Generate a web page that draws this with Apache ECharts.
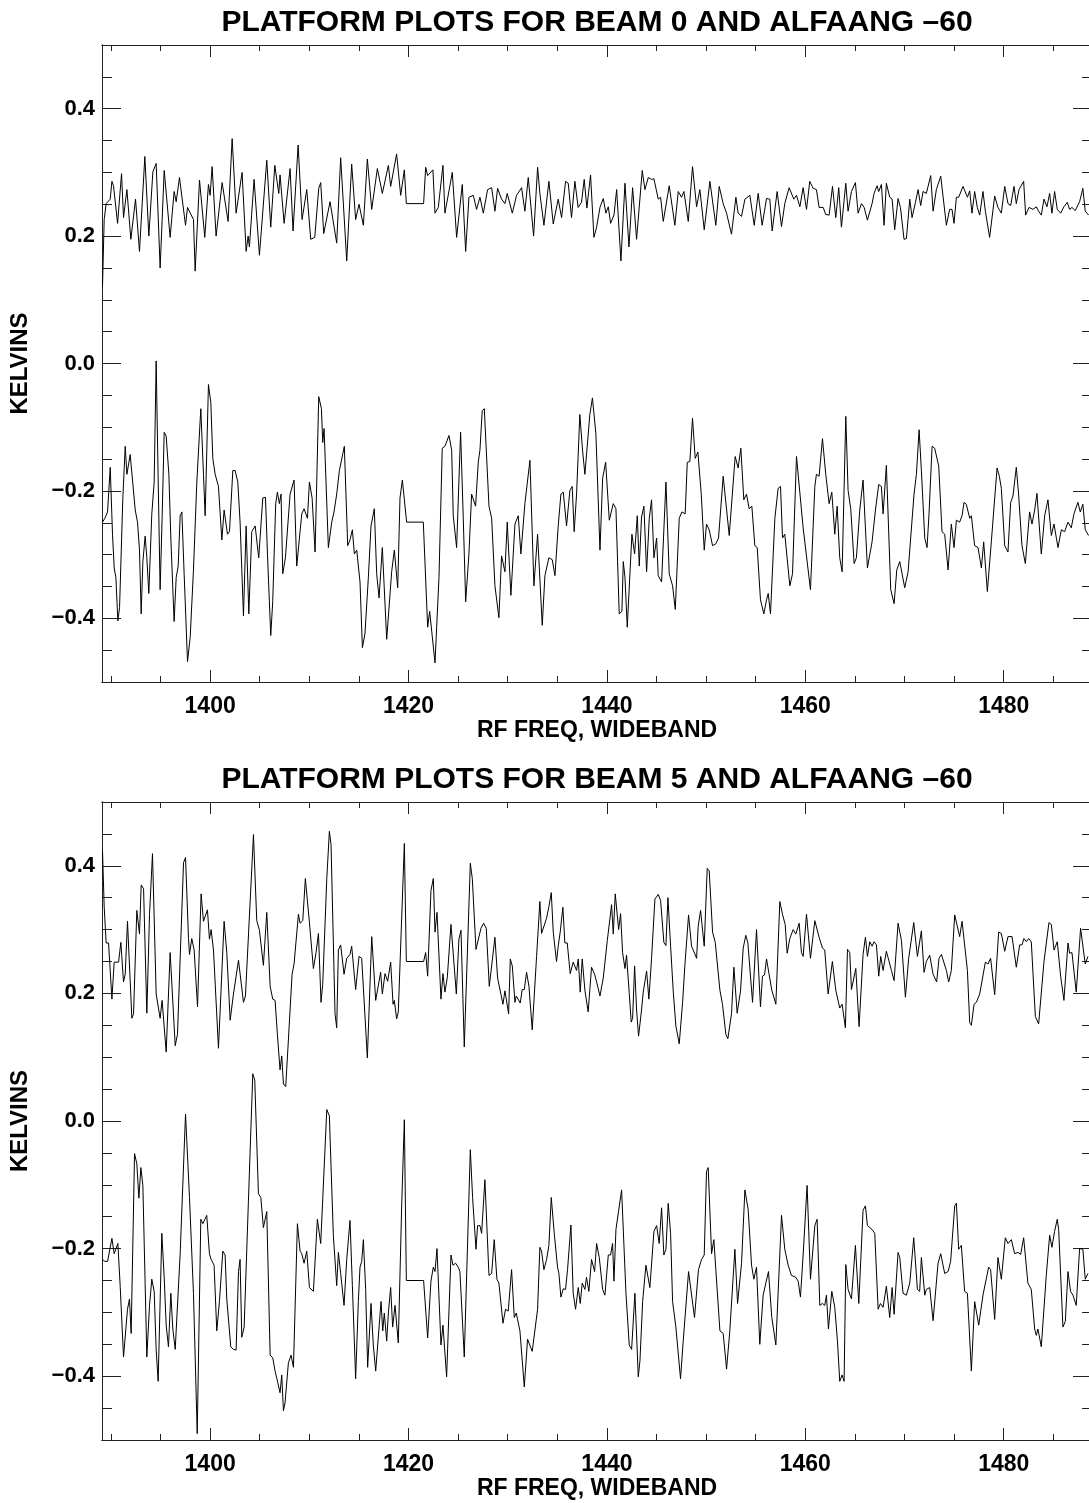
<!DOCTYPE html>
<html lang="en">
<head>
<meta charset="UTF-8">
<title>Platform plots, beams 0 and 5</title>
<script src="https://cdn.jsdelivr.net/npm/echarts@6/dist/echarts.min.js"></script>
<style>html,body{margin:0;padding:0;background:#fff;}</style>
</head>
<body>
<div id="main" style="width:1089px;height:1503px;"></div>
<script type="text/javascript">
// axis ranges and ticks
var freqMin = 1389.1, freqMax = 1488.9;
var kelvinMin = -0.5, kelvinMax = 0.5;
var xMajorTicks = [1400, 1420, 1440, 1460, 1480];
var xMinorTicks = [1390, 1395, 1405, 1410, 1415, 1425, 1430, 1435, 1445, 1450, 1455, 1465, 1470, 1475, 1485];
var yMajorTicks = [-0.4, -0.2, 0, 0.2, 0.4];
var yMinorTicks = [-0.45, -0.35, -0.3, -0.25, -0.15, -0.1, -0.05, 0.05, 0.1, 0.15, 0.25, 0.3, 0.35, 0.45];
var panelTitles = ['PLATFORM PLOTS FOR BEAM 0 AND ALFAANG \u201360', 'PLATFORM PLOTS FOR BEAM 5 AND ALFAANG \u201360'];

// beam 0, upper trace  [RF freq (MHz), kelvins]
var beam0Upper = [[1389.15,0.12],[1389.32,0.226],[1389.52,0.251],[1389.93,0.258],[1390.1,0.286],[1390.26,0.279],[1390.67,0.22],[1391.07,0.298],[1391.27,0.229],[1391.61,0.273],[1392.01,0.195],[1392.48,0.258],[1392.88,0.176],[1393.42,0.325],[1393.82,0.2],[1394.23,0.301],[1394.56,0.314],[1394.96,0.15],[1395.37,0.303],[1395.97,0.198],[1396.37,0.27],[1396.58,0.254],[1396.91,0.292],[1397.52,0.217],[1397.72,0.245],[1398.32,0.226],[1398.49,0.145],[1398.93,0.288],[1399.46,0.198],[1399.83,0.281],[1400.0,0.264],[1400.2,0.309],[1400.6,0.2],[1401.21,0.284],[1401.81,0.223],[1402.22,0.353],[1402.62,0.236],[1403.22,0.3],[1403.63,0.176],[1403.83,0.2],[1403.96,0.183],[1404.43,0.289],[1404.97,0.17],[1405.71,0.319],[1406.11,0.214],[1406.52,0.311],[1406.92,0.267],[1407.05,0.296],[1407.46,0.22],[1408.06,0.306],[1408.36,0.208],[1408.87,0.343],[1409.27,0.226],[1409.74,0.273],[1410.14,0.195],[1410.55,0.198],[1410.95,0.275],[1411.15,0.284],[1411.45,0.204],[1412.09,0.254],[1412.76,0.189],[1413.16,0.323],[1413.77,0.161],
  [1414.27,0.313],[1414.67,0.226],[1415.01,0.25],[1415.45,0.217],[1415.85,0.321],[1416.29,0.242],[1416.86,0.306],[1417.36,0.267],[1417.97,0.311],[1418.2,0.278],[1418.8,0.329],[1419.21,0.264],[1419.58,0.304],[1419.78,0.251],[1421.52,0.251],[1421.73,0.308],[1421.93,0.295],[1422.46,0.304],[1422.67,0.236],[1423.0,0.245],[1423.47,0.311],[1423.67,0.236],[1424.08,0.271],[1424.41,0.3],[1424.85,0.198],[1425.42,0.281],[1425.76,0.176],[1426.09,0.261],[1426.53,0.264],[1426.86,0.242],[1427.2,0.261],[1427.54,0.236],[1427.97,0.273],[1428.38,0.276],[1428.71,0.239],[1428.98,0.275],[1429.38,0.258],[1429.72,0.251],[1429.95,0.267],[1430.46,0.236],[1430.89,0.264],[1431.4,0.276],[1431.73,0.239],[1432.07,0.292],[1432.61,0.2],[1433.01,0.308],[1433.24,0.267],[1433.65,0.217],[1434.15,0.286],[1434.59,0.219],[1435.09,0.258],[1435.43,0.229],[1435.83,0.286],[1436.1,0.283],[1436.43,0.229],[1436.77,0.286],[1437.1,0.245],[1437.44,0.253],[1437.71,0.289],[1437.98,0.244],[1438.35,0.296],[1438.69,0.198],
  [1438.96,0.214],[1439.3,0.245],[1439.63,0.259],[1439.9,0.236],[1440.14,0.246],[1440.37,0.22],[1440.71,0.233],[1440.98,0.273],[1441.41,0.161],[1441.82,0.283],[1442.22,0.183],[1442.59,0.276],[1442.99,0.195],[1443.56,0.303],[1443.83,0.273],[1444.17,0.292],[1444.5,0.289],[1444.74,0.29],[1445.17,0.258],[1445.41,0.261],[1445.68,0.223],[1446.28,0.279],[1446.85,0.217],[1447.19,0.27],[1447.52,0.261],[1447.76,0.27],[1448.2,0.223],[1448.63,0.309],[1449.04,0.246],[1449.37,0.273],[1449.81,0.21],[1450.38,0.286],[1450.98,0.217],[1451.32,0.278],[1451.72,0.251],[1452.06,0.236],[1452.56,0.203],[1453.0,0.261],[1453.23,0.236],[1453.57,0.231],[1453.91,0.258],[1454.41,0.264],[1454.85,0.217],[1455.25,0.267],[1455.65,0.217],[1456.09,0.259],[1456.42,0.258],[1456.66,0.208],[1457.16,0.27],[1457.6,0.215],[1457.93,0.251],[1458.37,0.276],[1458.84,0.258],[1459.11,0.264],[1459.45,0.246],[1459.78,0.276],[1460.12,0.242],[1460.45,0.286],[1460.79,0.275],[1461.12,0.273],[1461.39,0.245],[1461.8,0.245],[1462.06,0.234],[1462.4,0.233],[1462.74,0.278],[1463.07,0.229],
  [1463.37,0.276],[1463.64,0.214],[1464.08,0.283],[1464.31,0.239],[1464.65,0.27],[1465.05,0.284],[1465.32,0.236],[1465.66,0.251],[1465.93,0.245],[1466.26,0.225],[1466.73,0.251],[1466.93,0.267],[1467.23,0.279],[1467.4,0.27],[1467.67,0.281],[1467.94,0.217],[1468.17,0.283],[1468.51,0.261],[1468.75,0.258],[1469.01,0.21],[1469.35,0.259],[1469.59,0.245],[1469.95,0.195],[1470.19,0.196],[1470.53,0.258],[1470.76,0.229],[1471.1,0.253],[1471.37,0.273],[1471.63,0.248],[1471.87,0.27],[1472.2,0.267],[1472.64,0.295],[1472.88,0.239],[1473.21,0.273],[1473.65,0.294],[1474.22,0.217],[1474.55,0.242],[1474.79,0.242],[1474.99,0.22],[1475.23,0.261],[1475.46,0.261],[1475.9,0.278],[1476.34,0.261],[1476.57,0.271],[1476.8,0.236],[1477.07,0.27],[1477.34,0.245],[1477.58,0.233],[1477.91,0.27],[1478.15,0.239],[1478.58,0.198],[1479.09,0.263],[1479.42,0.245],[1479.76,0.236],[1480.1,0.278],[1480.43,0.251],[1480.7,0.248],[1481.04,0.278],[1481.27,0.251],[1481.54,0.273],[1482.01,0.286],[1482.21,0.233],[1482.55,0.245],[1482.95,0.242],[1483.29,0.246],[1483.52,0.239],[1483.79,0.233],[1484.06,0.258],[1484.36,0.246],[1484.63,0.267],[1484.86,0.236],[1485.13,0.27],[1485.4,0.242],[1485.74,0.236],[1486.07,0.246],[1486.41,0.253],[1486.64,0.242],[1486.88,0.245],[1487.21,0.24],[1487.65,0.254],[1487.98,0.275],[1488.22,0.239],[1488.56,0.233]];

// beam 0, lower trace
var beam0Lower = [[1389.15,-0.249],[1389.39,-0.243],[1389.66,-0.233],[1389.93,-0.163],[1390.16,-0.268],[1390.33,-0.321],[1390.5,-0.336],[1390.7,-0.404],[1390.87,-0.383],[1391.2,-0.211],[1391.44,-0.13],[1391.61,-0.174],[1391.94,-0.143],[1392.11,-0.146],[1392.45,-0.23],[1392.68,-0.249],[1392.88,-0.293],[1393.05,-0.393],[1393.22,-0.311],[1393.45,-0.271],[1393.62,-0.305],[1393.82,-0.361],[1394.12,-0.236],[1394.36,-0.186],[1394.56,0.004],[1394.76,-0.18],[1394.96,-0.355],[1395.16,-0.243],[1395.37,-0.108],[1395.57,-0.114],[1395.84,-0.174],[1396.04,-0.274],[1396.37,-0.405],[1396.58,-0.336],[1396.78,-0.318],[1396.98,-0.239],[1397.15,-0.233],[1397.38,-0.33],[1397.72,-0.468],[1397.99,-0.43],[1398.32,-0.324],[1398.66,-0.186],[1399.06,-0.071],[1399.33,-0.174],[1399.5,-0.239],[1399.83,-0.033],[1400.07,-0.061],[1400.27,-0.149],[1400.51,-0.174],[1400.84,-0.193],[1401.18,-0.277],[1401.41,-0.23],[1401.61,-0.228],[1401.75,-0.268],[1401.95,-0.264],[1402.29,-0.168],[1402.52,-0.168],[1402.79,-0.186],[1403.02,-0.249],[1403.36,-0.396],[1403.63,-0.255],[1403.9,-0.393],[1404.2,-0.264],[1404.54,-0.255],[1404.9,-0.305],[1405.31,-0.211],[1405.58,-0.21],[1405.78,-0.299],[1406.11,-0.427],[1406.31,-0.374],[1406.61,-0.22],[1406.78,-0.202],[1406.98,-0.22],[1407.15,-0.205],[1407.32,-0.33],[1407.59,-0.305],[1408.06,-0.205],[1408.46,-0.183],[1408.73,-0.318],[1408.9,-0.321],[1409.24,-0.236],[1409.47,-0.228],[1409.81,-0.243],[1410.01,-0.186],[1410.28,-0.211],[1410.58,-0.296],[1410.95,-0.052],[1411.22,-0.071],[1411.35,-0.124],[1411.49,-0.102],[1411.92,-0.289],[1412.26,-0.249],[1412.49,-0.233],[1412.76,-0.205],[1413.03,-0.168],[1413.23,-0.168],[1413.53,-0.13],[1413.87,-0.286],
  [1414.1,-0.277],[1414.34,-0.261],[1414.54,-0.299],[1414.78,-0.293],[1415.11,-0.343],[1415.35,-0.446],[1415.61,-0.424],[1415.95,-0.336],[1416.22,-0.255],[1416.55,-0.228],[1416.79,-0.33],[1417.03,-0.368],[1417.36,-0.289],[1417.8,-0.433],[1418.3,-0.327],[1418.57,-0.293],[1418.91,-0.352],[1419.14,-0.211],[1419.38,-0.183],[1419.81,-0.249],[1421.49,-0.249],[1421.93,-0.414],[1422.13,-0.389],[1422.67,-0.47],[1423.07,-0.336],[1423.4,-0.133],[1423.67,-0.13],[1424.08,-0.113],[1424.35,-0.136],[1424.51,-0.239],[1424.85,-0.289],[1425.25,-0.108],[1425.52,-0.243],[1425.76,-0.374],[1426.09,-0.299],[1426.36,-0.205],[1426.56,-0.202],[1426.76,-0.224],[1427.03,-0.155],[1427.2,-0.136],[1427.43,-0.074],[1427.64,-0.071],[1428.11,-0.224],[1428.38,-0.243],[1428.71,-0.349],[1429.11,-0.399],[1429.38,-0.302],[1429.72,-0.327],[1429.95,-0.249],[1430.32,-0.364],[1430.73,-0.252],[1431.06,-0.239],[1431.33,-0.299],[1431.73,-0.22],[1431.9,-0.218],[1432.24,-0.152],[1432.64,-0.349],[1433.01,-0.268],[1433.48,-0.411],[1433.75,-0.333],[1434.15,-0.305],[1434.49,-0.308],[1434.76,-0.333],[1435.09,-0.255],[1435.36,-0.205],[1435.6,-0.202],[1435.93,-0.255],[1436.27,-0.199],[1436.5,-0.193],[1436.7,-0.264],[1436.94,-0.205],[1437.27,-0.08],[1437.54,-0.136],[1437.78,-0.174],[1437.94,-0.177],[1438.28,-0.08],[1438.54,-0.054],
  [1438.89,-0.111],[1439.3,-0.293],[1439.57,-0.18],[1439.87,-0.155],[1440.24,-0.246],[1440.64,-0.22],[1440.91,-0.228],[1441.24,-0.393],[1441.51,-0.389],[1441.65,-0.311],[1441.82,-0.336],[1442.05,-0.414],[1442.25,-0.414],[1442.52,-0.268],[1442.79,-0.299],[1443.06,-0.239],[1443.26,-0.318],[1443.49,-0.241],[1443.73,-0.224],[1444.0,-0.327],[1444.27,-0.243],[1444.5,-0.214],[1444.74,-0.305],[1445.01,-0.274],[1445.17,-0.333],[1445.51,-0.343],[1445.95,-0.186],[1446.28,-0.33],[1446.62,-0.349],[1446.89,-0.386],[1447.29,-0.243],[1447.56,-0.233],[1447.89,-0.236],[1448.1,-0.155],[1448.36,-0.154],[1448.63,-0.086],[1448.9,-0.149],[1449.17,-0.139],[1449.51,-0.205],[1449.81,-0.293],[1450.04,-0.252],[1450.31,-0.261],[1450.65,-0.286],[1450.98,-0.283],[1451.25,-0.274],[1451.72,-0.177],[1452.33,-0.27],[1452.93,-0.146],[1453.23,-0.164],[1453.5,-0.133],[1453.8,-0.214],[1454.07,-0.205],[1454.34,-0.228],[1454.61,-0.224],[1454.91,-0.286],[1455.15,-0.289],[1455.48,-0.371],[1455.82,-0.393],[1456.09,-0.371],[1456.26,-0.361],[1456.49,-0.393],[1456.93,-0.243],[1457.26,-0.196],[1457.5,-0.193],[1457.7,-0.274],[1457.93,-0.268],[1458.44,-0.349],[1458.71,-0.33],[1459.11,-0.146],[1459.28,-0.143],[1459.78,-0.258],[1460.52,-0.355],[1460.96,-0.193],[1461.12,-0.174],[1461.39,-0.177],[1461.73,-0.118],[1462.06,-0.174],[1462.4,-0.22],[1462.67,-0.202],[1462.97,-0.268],[1463.21,-0.224],
  [1463.47,-0.305],[1463.71,-0.327],[1464.08,-0.083],[1464.31,-0.199],[1464.58,-0.228],[1464.92,-0.314],[1465.15,-0.305],[1465.49,-0.23],[1465.82,-0.183],[1466.26,-0.321],[1466.73,-0.28],[1467.07,-0.23],[1467.4,-0.19],[1467.67,-0.193],[1467.84,-0.236],[1468.17,-0.16],[1468.61,-0.355],[1468.95,-0.377],[1469.22,-0.324],[1469.52,-0.311],[1470.02,-0.352],[1470.36,-0.327],[1470.53,-0.324],[1470.96,-0.205],[1471.2,-0.174],[1471.47,-0.104],[1471.7,-0.168],[1472.04,-0.274],[1472.27,-0.289],[1472.47,-0.236],[1472.78,-0.13],[1473.04,-0.133],[1473.45,-0.161],[1473.78,-0.264],[1474.05,-0.268],[1474.39,-0.324],[1474.72,-0.252],[1474.99,-0.289],[1475.23,-0.246],[1475.56,-0.249],[1475.8,-0.239],[1476.0,-0.218],[1476.23,-0.221],[1476.57,-0.243],[1476.74,-0.239],[1477.07,-0.286],[1477.41,-0.289],[1477.75,-0.321],[1477.98,-0.28],[1478.35,-0.358],[1478.75,-0.28],[1479.33,-0.164],[1479.56,-0.177],[1479.76,-0.196],[1480.1,-0.286],[1480.43,-0.296],[1480.7,-0.218],[1480.93,-0.208],[1481.27,-0.163],[1481.5,-0.205],[1481.84,-0.286],[1482.18,-0.314],[1482.61,-0.233],[1482.85,-0.252],[1483.12,-0.23],[1483.35,-0.204],[1483.79,-0.299],[1484.13,-0.239],[1484.46,-0.214],[1484.8,-0.27],[1485.07,-0.252],[1485.47,-0.289],[1485.81,-0.261],[1486.14,-0.264],[1486.48,-0.249],[1486.81,-0.258],[1487.08,-0.236],[1487.48,-0.218],[1487.72,-0.233],[1487.98,-0.221],[1488.22,-0.261],[1488.56,-0.27]];

// beam 5, upper trace
var beam5Upper = [[1389.15,0.424],[1389.32,0.336],[1389.52,0.279],[1389.76,0.279],[1390.1,0.191],[1390.33,0.249],[1390.77,0.249],[1391.0,0.28],[1391.27,0.218],[1391.44,0.23],[1391.67,0.313],[1392.11,0.161],[1392.28,0.168],[1392.61,0.33],[1392.88,0.293],[1393.05,0.37],[1393.29,0.364],[1393.62,0.169],[1393.89,0.324],[1394.19,0.419],[1394.56,0.199],[1394.96,0.161],[1395.16,0.189],[1395.57,0.108],[1395.97,0.264],[1396.17,0.261],[1396.48,0.118],[1396.71,0.136],[1397.32,0.405],[1397.52,0.413],[1397.82,0.286],[1397.92,0.261],[1398.15,0.286],[1398.39,0.268],[1398.73,0.179],[1399.09,0.356],[1399.33,0.313],[1399.53,0.31],[1399.73,0.331],[1399.93,0.285],[1400.1,0.3],[1400.34,0.268],[1400.84,0.114],[1401.41,0.313],[1401.68,0.264],[1402.02,0.158],[1402.35,0.199],[1402.52,0.202],[1402.86,0.252],[1403.02,0.252],[1403.36,0.186],[1403.56,0.196],[1404.37,0.449],[1404.7,0.314],[1404.97,0.299],[1405.37,0.244],[1405.71,0.327],[1406.05,0.211],[1406.31,0.191],[1406.55,0.189],[1406.78,0.136],[1407.05,0.08],[1407.22,0.102],[1407.39,0.058],[1407.62,0.054],[1407.89,0.127],[1408.06,0.124],[1408.26,0.23],[1408.46,0.246],[1408.9,0.324],[1409.07,0.31],[1409.34,0.314],[1409.6,0.38],[1410.01,0.311],[1410.41,0.239],[1410.68,0.264],[1410.92,0.294],[1411.08,0.296],[1411.18,0.186],[1411.35,0.214],[1411.76,0.38],[1412.02,0.454],[1412.19,0.433],[1412.59,0.168],[1412.76,0.146],[1412.93,0.268],[1413.16,0.276],[1413.5,0.23],[1413.77,0.255],[1414.1,0.261],
  [1414.27,0.274],[1414.67,0.206],[1415.01,0.258],[1415.28,0.255],[1415.45,0.256],[1415.85,0.099],[1416.29,0.289],[1416.69,0.189],[1416.86,0.188],[1417.19,0.233],[1417.36,0.199],[1417.63,0.231],[1417.9,0.219],[1418.2,0.249],[1418.44,0.183],[1418.57,0.189],[1418.8,0.16],[1418.97,0.171],[1419.58,0.435],[1419.78,0.25],[1421.52,0.25],[1421.73,0.264],[1421.93,0.227],[1422.26,0.361],[1422.5,0.38],[1422.67,0.296],[1422.87,0.327],[1423.27,0.191],[1423.47,0.231],[1423.67,0.202],[1423.91,0.225],[1424.28,0.308],[1424.48,0.308],[1424.82,0.199],[1425.08,0.285],[1425.29,0.299],[1425.62,0.116],[1426.23,0.404],[1426.43,0.38],[1426.8,0.269],[1426.96,0.271],[1427.3,0.302],[1427.57,0.31],[1427.84,0.302],[1428.14,0.211],[1428.71,0.288],[1428.98,0.224],[1429.15,0.227],[1429.52,0.183],[1429.72,0.204],[1429.89,0.202],[1430.09,0.168],[1430.26,0.254],[1430.46,0.243],[1430.73,0.186],[1430.86,0.196],[1431.26,0.185],[1431.46,0.206],[1431.67,0.206],[1431.9,0.233],[1432.14,0.211],[1432.47,0.143],[1432.91,0.258],[1433.24,0.344],[1433.41,0.294],[1433.92,0.318],[1434.15,0.336],[1434.39,0.358],[1434.59,0.296],[1434.92,0.25],[1435.09,0.274],[1435.29,0.296],[1435.56,0.335],[1435.76,0.279],[1436.0,0.279],[1436.3,0.231],[1436.6,0.249],[1436.77,0.252],[1436.94,0.236],[1437.11,0.254],[1437.31,0.202],[1437.51,0.254],[1437.78,0.205],[1438.11,0.171],[1438.45,0.241],
  [1438.76,0.23],[1438.96,0.218],[1439.3,0.196],[1439.63,0.224],[1440.04,0.283],[1440.47,0.339],[1440.64,0.293],[1440.84,0.356],[1441.18,0.3],[1441.38,0.325],[1441.58,0.264],[1441.82,0.239],[1441.98,0.26],[1442.25,0.2],[1442.45,0.155],[1442.59,0.161],[1442.79,0.243],[1442.99,0.174],[1443.19,0.133],[1443.49,0.174],[1443.66,0.202],[1443.83,0.202],[1444.0,0.235],[1444.23,0.191],[1444.5,0.255],[1444.84,0.348],[1445.17,0.355],[1445.41,0.346],[1445.61,0.348],[1445.74,0.28],[1445.95,0.275],[1446.15,0.35],[1446.42,0.274],[1446.69,0.202],[1446.95,0.149],[1447.09,0.146],[1447.29,0.121],[1447.63,0.186],[1447.86,0.244],[1448.23,0.323],[1448.53,0.274],[1448.7,0.268],[1449.04,0.255],[1449.2,0.305],[1449.44,0.33],[1449.81,0.274],[1450.11,0.396],[1450.31,0.392],[1450.65,0.296],[1450.92,0.28],[1451.39,0.205],[1451.65,0.183],[1451.99,0.136],[1452.19,0.129],[1452.56,0.168],[1452.8,0.241],[1453.13,0.169],[1453.47,0.204],[1453.74,0.271],[1454.0,0.291],[1454.21,0.279],[1454.68,0.186],[1455.08,0.3],[1455.48,0.179],[1455.68,0.227],[1455.89,0.229],[1456.09,0.254],[1456.29,0.252],[1456.62,0.205],[1456.82,0.208],[1457.03,0.183],[1457.43,0.344],[1457.7,0.324],[1457.97,0.308],[1458.17,0.263],[1458.44,0.286],[1458.77,0.3],[1459.04,0.293],[1459.38,0.31],[1459.61,0.264],[1459.78,0.258],[1460.12,0.324],[1460.52,0.255],[1460.96,0.314],[1461.39,0.288],[1461.73,0.271],[1461.96,0.268],[1462.3,0.199],[1462.73,0.25],[1463.07,0.205],
  [1463.47,0.177],[1463.71,0.183],[1464.04,0.146],[1464.25,0.269],[1464.48,0.264],[1464.65,0.206],[1464.82,0.205],[1465.09,0.239],[1465.42,0.148],[1465.82,0.261],[1466.06,0.288],[1466.26,0.258],[1466.5,0.281],[1466.73,0.274],[1466.93,0.281],[1467.17,0.276],[1467.4,0.227],[1467.6,0.258],[1467.84,0.236],[1468.17,0.266],[1468.41,0.252],[1468.68,0.236],[1468.95,0.22],[1469.35,0.31],[1469.69,0.283],[1470.09,0.194],[1470.42,0.255],[1470.93,0.311],[1471.3,0.258],[1471.7,0.298],[1471.97,0.233],[1472.2,0.25],[1472.54,0.26],[1472.88,0.23],[1473.04,0.227],[1473.24,0.218],[1473.48,0.255],[1473.72,0.261],[1474.22,0.236],[1474.45,0.218],[1474.72,0.236],[1475.06,0.323],[1475.56,0.289],[1475.8,0.313],[1476.34,0.236],[1476.57,0.154],[1476.74,0.15],[1477.01,0.183],[1477.24,0.186],[1477.58,0.199],[1477.75,0.196],[1478.15,0.249],[1478.42,0.246],[1478.68,0.255],[1479.09,0.198],[1479.49,0.296],[1479.76,0.294],[1480.1,0.266],[1480.43,0.289],[1480.84,0.289],[1481.27,0.241],[1481.61,0.276],[1481.84,0.276],[1482.04,0.286],[1482.28,0.281],[1482.51,0.286],[1482.78,0.281],[1483.19,0.164],[1483.52,0.152],[1484.06,0.25],[1484.56,0.311],[1484.8,0.308],[1485.07,0.268],[1485.4,0.281],[1485.74,0.227],[1486.07,0.189],[1486.48,0.279],[1486.64,0.263],[1486.88,0.264],[1487.31,0.202],[1487.75,0.302],[1487.95,0.305],[1488.22,0.246],[1488.49,0.258]];

// beam 5, lower trace
var beam5Lower = [[1389.15,-0.217],[1389.39,-0.22],[1389.66,-0.22],[1390.1,-0.184],[1390.33,-0.208],[1390.53,-0.21],[1390.7,-0.192],[1390.94,-0.261],[1391.27,-0.37],[1391.47,-0.367],[1391.67,-0.295],[1391.87,-0.279],[1392.04,-0.333],[1392.38,-0.051],[1392.61,-0.067],[1392.82,-0.121],[1393.02,-0.073],[1393.22,-0.101],[1393.62,-0.37],[1393.89,-0.289],[1394.12,-0.248],[1394.36,-0.267],[1394.56,-0.358],[1394.76,-0.408],[1395.13,-0.176],[1395.37,-0.245],[1395.57,-0.32],[1395.8,-0.354],[1396.04,-0.27],[1396.24,-0.326],[1396.48,-0.358],[1396.98,-0.208],[1397.52,0.011],[1397.92,-0.12],[1398.32,-0.27],[1398.7,-0.49],[1399.06,-0.154],[1399.26,-0.161],[1399.66,-0.148],[1399.93,-0.208],[1400.1,-0.217],[1400.4,-0.226],[1400.67,-0.329],[1400.94,-0.283],[1401.28,-0.204],[1401.51,-0.21],[1401.68,-0.279],[1402.08,-0.354],[1402.35,-0.358],[1402.62,-0.359],[1402.86,-0.236],[1403.02,-0.217],[1403.19,-0.339],[1403.43,-0.323],[1403.86,-0.126],[1404.3,0.074],[1404.5,0.064],[1404.87,-0.114],[1405.11,-0.12],[1405.37,-0.167],[1405.71,-0.142],[1406.05,-0.367],[1406.31,-0.371],[1406.55,-0.392],[1406.82,-0.41],[1407.05,-0.426],[1407.22,-0.398],[1407.39,-0.454],[1407.55,-0.442],[1407.89,-0.379],[1408.16,-0.367],[1408.4,-0.386],[1408.8,-0.161],[1409.07,-0.204],[1409.24,-0.208],[1409.47,-0.223],[1409.74,-0.204],[1410.01,-0.261],[1410.41,-0.267],[1410.81,-0.154],[1411.01,-0.156],[1411.15,-0.192],[1411.76,0.018],[1412.02,0.008],[1412.42,-0.179],[1412.76,-0.258],[1412.93,-0.206],[1413.16,-0.239],[1413.5,-0.289],[1413.77,-0.217],[1414.1,-0.156],
  [1414.34,-0.258],[1414.67,-0.404],[1414.94,-0.283],[1415.11,-0.229],[1415.28,-0.22],[1415.45,-0.186],[1415.68,-0.264],[1415.88,-0.386],[1416.22,-0.286],[1416.45,-0.351],[1416.69,-0.392],[1416.86,-0.389],[1417.23,-0.283],[1417.4,-0.329],[1417.56,-0.301],[1417.8,-0.345],[1417.97,-0.301],[1418.2,-0.261],[1418.4,-0.323],[1418.64,-0.289],[1418.8,-0.292],[1418.97,-0.348],[1419.31,-0.133],[1419.58,0.002],[1419.78,-0.25],[1421.52,-0.25],[1421.93,-0.34],[1422.26,-0.251],[1422.5,-0.229],[1422.67,-0.236],[1422.87,-0.2],[1423.27,-0.351],[1423.47,-0.32],[1423.84,-0.401],[1424.28,-0.21],[1424.48,-0.226],[1424.75,-0.223],[1425.01,-0.229],[1425.18,-0.236],[1425.62,-0.37],[1426.23,-0.045],[1426.46,-0.12],[1426.8,-0.201],[1426.96,-0.164],[1427.2,-0.164],[1427.37,-0.176],[1427.7,-0.092],[1428.11,-0.242],[1428.38,-0.239],[1428.64,-0.186],[1428.91,-0.248],[1429.11,-0.254],[1429.52,-0.317],[1429.78,-0.295],[1430.05,-0.298],[1430.39,-0.233],[1430.66,-0.308],[1430.86,-0.301],[1431.23,-0.329],[1431.67,-0.417],[1432.0,-0.342],[1432.2,-0.345],[1432.47,-0.361],[1433.01,-0.295],[1433.24,-0.198],[1433.41,-0.204],[1433.65,-0.233],[1433.92,-0.217],[1434.15,-0.195],[1434.39,-0.12],[1434.69,-0.176],[1435.02,-0.229],[1435.16,-0.239],[1435.36,-0.276],[1435.6,-0.263],[1435.83,-0.264],[1436.03,-0.233],[1436.37,-0.163],[1436.6,-0.27],[1436.84,-0.295],[1437.11,-0.261],[1437.31,-0.286],[1437.51,-0.254],[1437.78,-0.264],[1437.94,-0.245],[1438.18,-0.267],[1438.45,-0.217],
  [1438.76,-0.236],[1438.96,-0.192],[1439.23,-0.214],[1439.57,-0.264],[1439.8,-0.273],[1440.14,-0.21],[1440.37,-0.21],[1440.57,-0.192],[1440.71,-0.251],[1440.91,-0.17],[1441.11,-0.17],[1441.48,-0.108],[1441.92,-0.27],[1442.25,-0.351],[1442.49,-0.358],[1442.82,-0.27],[1443.16,-0.401],[1443.33,-0.376],[1443.6,-0.283],[1443.93,-0.226],[1444.33,-0.261],[1444.74,-0.173],[1445.01,-0.164],[1445.27,-0.192],[1445.51,-0.136],[1445.74,-0.21],[1445.95,-0.201],[1446.18,-0.129],[1446.42,-0.176],[1446.62,-0.283],[1446.95,-0.323],[1447.09,-0.323],[1447.42,-0.404],[1447.69,-0.345],[1447.89,-0.348],[1448.23,-0.236],[1448.43,-0.239],[1448.83,-0.308],[1449.23,-0.233],[1449.54,-0.217],[1449.81,-0.21],[1450.04,-0.079],[1450.21,-0.073],[1450.55,-0.208],[1450.78,-0.186],[1450.98,-0.233],[1451.39,-0.329],[1451.72,-0.333],[1452.06,-0.389],[1452.39,-0.329],[1452.9,-0.201],[1453.17,-0.286],[1453.33,-0.286],[1453.57,-0.223],[1453.91,-0.108],[1454.24,-0.139],[1454.58,-0.226],[1454.81,-0.248],[1455.08,-0.229],[1455.41,-0.35],[1455.75,-0.273],[1456.02,-0.254],[1456.29,-0.236],[1456.62,-0.308],[1456.82,-0.311],[1457.03,-0.351],[1457.6,-0.148],[1457.93,-0.201],[1458.27,-0.226],[1458.6,-0.242],[1459.04,-0.245],[1459.28,-0.251],[1459.51,-0.276],[1459.78,-0.21],[1460.18,-0.101],[1460.52,-0.248],[1460.72,-0.248],[1460.96,-0.164],[1461.19,-0.154],[1461.46,-0.289],[1461.73,-0.286],[1461.96,-0.289],[1462.13,-0.273],[1462.33,-0.326],[1462.67,-0.267],[1462.97,-0.292],
  [1463.24,-0.345],[1463.47,-0.408],[1463.71,-0.398],[1463.91,-0.408],[1464.08,-0.225],[1464.31,-0.264],[1464.48,-0.261],[1464.65,-0.279],[1465.05,-0.195],[1465.39,-0.286],[1465.82,-0.14],[1466.06,-0.133],[1466.26,-0.164],[1466.5,-0.167],[1466.73,-0.17],[1467.0,-0.176],[1467.34,-0.295],[1467.57,-0.286],[1467.84,-0.292],[1468.17,-0.259],[1468.51,-0.308],[1468.75,-0.261],[1468.95,-0.303],[1469.35,-0.206],[1469.52,-0.214],[1469.85,-0.27],[1470.19,-0.273],[1470.53,-0.254],[1470.93,-0.183],[1471.3,-0.264],[1471.53,-0.267],[1471.7,-0.214],[1472.04,-0.273],[1472.2,-0.264],[1472.54,-0.261],[1472.88,-0.313],[1473.38,-0.223],[1473.65,-0.208],[1474.05,-0.239],[1474.39,-0.236],[1474.65,-0.22],[1475.06,-0.133],[1475.23,-0.129],[1475.46,-0.201],[1475.73,-0.195],[1476.06,-0.267],[1476.34,-0.27],[1476.74,-0.392],[1477.07,-0.283],[1477.48,-0.32],[1477.91,-0.273],[1478.48,-0.229],[1478.68,-0.233],[1479.09,-0.311],[1479.42,-0.214],[1479.76,-0.248],[1480.16,-0.183],[1480.43,-0.192],[1480.77,-0.186],[1481.1,-0.208],[1481.44,-0.206],[1481.71,-0.209],[1482.01,-0.183],[1482.44,-0.254],[1482.78,-0.264],[1483.12,-0.326],[1483.29,-0.336],[1483.45,-0.326],[1483.79,-0.354],[1484.29,-0.242],[1484.63,-0.179],[1484.86,-0.198],[1485.13,-0.173],[1485.4,-0.154],[1485.54,-0.17],[1485.97,-0.323],[1486.21,-0.314],[1486.48,-0.236],[1486.74,-0.267],[1486.98,-0.273],[1487.31,-0.289],[1487.65,-0.2],[1487.98,-0.201],[1488.22,-0.248],[1488.49,-0.239]];

var FONT = '"Liberation Sans", Arial, Helvetica, sans-serif';
var INK = '#000';
var AXIS = '#222';
var panels = [
    { top: 45, height: 637, upper: beam0Upper, lower: beam0Lower },
    { top: 802, height: 638, upper: beam5Upper, lower: beam5Lower }
];

function textStyle(size) {
    return { fontFamily: FONT, fontSize: size || 23, fontWeight: 'bold', color: INK };
}

function kelvinLabel(v) {
    if (Math.abs(v) < 1e-9) return '0.0';
    return (v < 0 ? '\u2212' : '') + Math.abs(v).toFixed(1);
}

// one x axis of a panel: major or minor ticks, on one side
function xAxisFor(g, pos, ticks, len, labels) {
    var a = {
        gridIndex: g, type: 'value', position: pos, min: freqMin, max: freqMax,
        axisLine: { show: true, onZero: false, lineStyle: { color: AXIS, width: 1 } },
        axisTick: { show: true, inside: true, length: len, customValues: ticks, lineStyle: { color: AXIS, width: 1 } },
        axisLabel: { show: false },
        splitLine: { show: false }
    };
    if (labels) {
        a.axisLabel = Object.assign(textStyle(23), { show: true, customValues: ticks, margin: 13,
            formatter: function (v) { return String(v); } });
        a.name = 'RF FREQ, WIDEBAND';
        a.nameLocation = 'middle';
        a.nameGap = 37;
        a.nameTextStyle = textStyle(23);
    }
    return a;
}

function yAxisFor(g, pos, ticks, len, labels) {
    var a = {
        gridIndex: g, type: 'value', position: pos, min: kelvinMin, max: kelvinMax,
        axisLine: { show: true, onZero: false, lineStyle: { color: AXIS, width: 1 } },
        axisTick: { show: true, inside: true, length: len, customValues: ticks, lineStyle: { color: AXIS, width: 1 } },
        axisLabel: { show: false },
        splitLine: { show: false }
    };
    if (labels) {
        a.axisLabel = Object.assign(textStyle(22), { show: true, customValues: ticks, margin: 7, formatter: kelvinLabel });
        a.name = 'KELVINS';
        a.nameLocation = 'middle';
        a.nameRotate = 90;
        a.nameGap = 70;
        a.nameTextStyle = textStyle(24);
    }
    return a;
}

var grids = [], xAxes = [], yAxes = [], series = [], graphics = [];
panels.forEach(function (p, g) {
    grids.push({ left: 102, top: p.top, width: 990, height: p.height, outerBoundsMode: 'none', containLabel: false });
    // order: major bottom (labels), major top, minor bottom, minor top
    xAxes.push(xAxisFor(g, 'bottom', xMajorTicks, 12, true));
    xAxes.push(xAxisFor(g, 'top', xMajorTicks, 12, false));
    xAxes.push(xAxisFor(g, 'bottom', xMinorTicks, 6, false));
    xAxes.push(xAxisFor(g, 'top', xMinorTicks, 6, false));
    yAxes.push(yAxisFor(g, 'left', yMajorTicks, 19, true));
    yAxes.push(yAxisFor(g, 'right', yMajorTicks, 19, false));
    yAxes.push(yAxisFor(g, 'left', yMinorTicks, 10, false));
    yAxes.push(yAxisFor(g, 'right', yMinorTicks, 10, false));
    [p.upper, p.lower].forEach(function (d) {
        series.push({
            type: 'line', xAxisIndex: g * 4, yAxisIndex: g * 4, data: d,
            showSymbol: false, symbol: 'none', clip: true,
            lineStyle: { color: INK, width: 1 }, emphasis: { disabled: true }
        });
    });
    graphics.push({
        type: 'text', x: 597, y: p.top - 22,
        style: { text: panelTitles[g], font: 'bold 30px ' + FONT, fill: INK, align: 'center', verticalAlign: 'middle' }
    });
});

var myChart = echarts.init(document.getElementById('main'), null, { renderer: 'canvas' });
myChart.setOption({
    animation: false,
    backgroundColor: '#fff',
    grid: grids,
    xAxis: xAxes,
    yAxis: yAxes,
    series: series,
    graphic: graphics
});
</script>
</body>
</html>
